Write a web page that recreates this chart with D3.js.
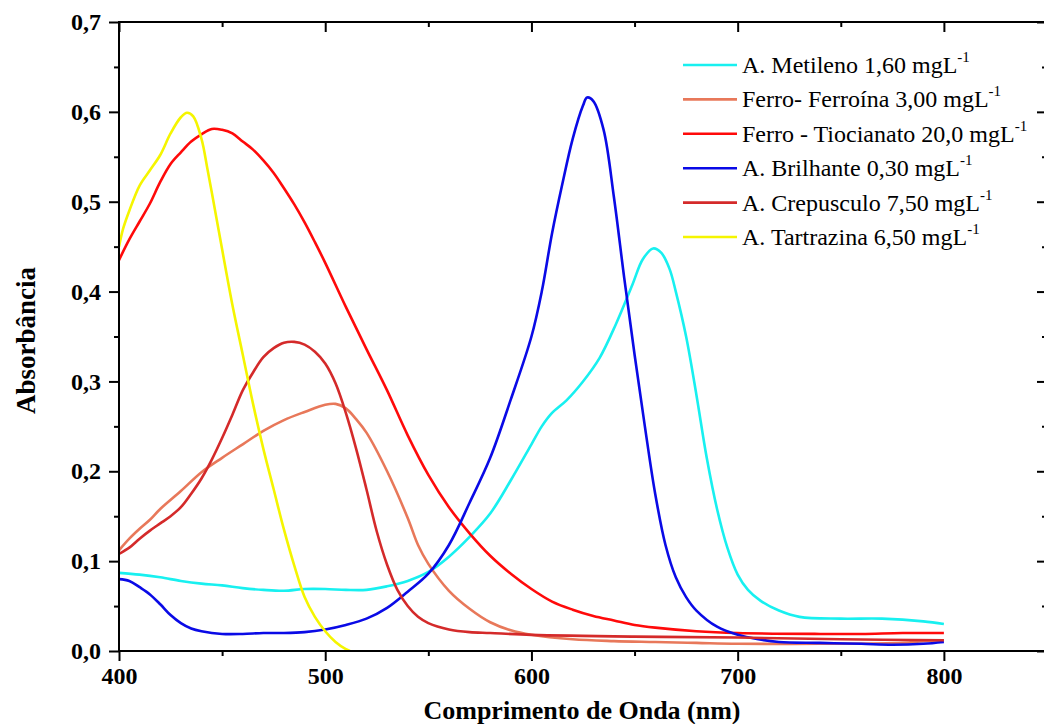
<!DOCTYPE html>
<html>
<head>
<meta charset="utf-8">
<script src="https://cdn.jsdelivr.net/npm/d3@7"></script>
<style>
body { margin: 0; background: #fff; }
text { font-family: "Liberation Serif", "Times New Roman", serif; }
</style>
</head>
<body>
<div id="chart"></div>
<script>
// spectra: [wavelength nm, absorbance]
var metileno = [[400,0.087],[410,0.085],[420,0.082],[430,0.078],[440,0.075],[450,0.073],[460,0.070],[470,0.068],[480,0.067],[490,0.069],[500,0.069],[510,0.068],[520,0.068],[530,0.072],[540,0.078],[550,0.088],[560,0.105],[570,0.127],[580,0.153],[590,0.19],[600,0.23],[605,0.25],[610,0.265],[617,0.279],[625,0.30],[633,0.326],[641,0.364],[649,0.408],[654,0.436],[659,0.448],[663,0.443],[667,0.425],[670,0.40],[675,0.35],[680,0.285],[685,0.215],[690,0.158],[695,0.115],[700,0.085],[705,0.068],[711,0.056],[720,0.045],[730,0.038],[750,0.036],[770,0.036],[790,0.033],[800,0.030]];
var ferroina = [[400,0.112],[405,0.125],[410,0.136],[415,0.146],[420,0.158],[430,0.178],[440,0.199],[450,0.215],[460,0.23],[470,0.245],[480,0.257],[490,0.266],[500,0.274],[505,0.275],[510,0.27],[515,0.258],[520,0.243],[530,0.20],[540,0.148],[545,0.118],[550,0.097],[560,0.067],[570,0.047],[580,0.032],[590,0.023],[600,0.018],[620,0.013],[640,0.011],[660,0.010],[680,0.009],[700,0.008],[740,0.008],[780,0.009],[790,0.011],[800,0.012]];
var tiocianato = [[400,0.435],[405,0.458],[410,0.478],[415,0.498],[420,0.522],[425,0.542],[430,0.555],[435,0.567],[440,0.575],[445,0.581],[450,0.580],[455,0.576],[460,0.567],[465,0.558],[470,0.546],[475,0.532],[480,0.515],[485,0.497],[490,0.477],[495,0.455],[500,0.432],[510,0.383],[520,0.336],[530,0.29],[540,0.24],[550,0.196],[560,0.16],[570,0.131],[580,0.106],[590,0.086],[600,0.069],[610,0.055],[620,0.046],[630,0.039],[640,0.034],[650,0.029],[660,0.026],[680,0.022],[700,0.020],[740,0.019],[760,0.019],[780,0.020],[800,0.020]];
var brilhante = [[400,0.080],[405,0.078],[410,0.071],[415,0.063],[420,0.052],[425,0.040],[430,0.031],[435,0.025],[440,0.022],[450,0.019],[460,0.019],[470,0.020],[480,0.020],[490,0.021],[500,0.024],[510,0.029],[520,0.036],[530,0.048],[540,0.066],[550,0.086],[560,0.118],[570,0.165],[580,0.215],[590,0.28],[600,0.35],[605,0.40],[610,0.465],[615,0.52],[620,0.57],[625,0.607],[627,0.616],[630,0.612],[635,0.58],[640,0.505],[645,0.415],[650,0.33],[655,0.25],[660,0.175],[665,0.118],[670,0.082],[675,0.06],[680,0.045],[690,0.027],[700,0.018],[710,0.013],[720,0.010],[740,0.009],[760,0.008],[775,0.007],[790,0.008],[800,0.010]];
var crepusculo = [[400,0.108],[405,0.115],[410,0.125],[415,0.134],[420,0.142],[425,0.150],[430,0.16],[435,0.175],[440,0.192],[445,0.213],[450,0.237],[455,0.263],[460,0.29],[465,0.31],[470,0.327],[475,0.337],[480,0.343],[485,0.344],[490,0.341],[495,0.333],[500,0.320],[505,0.298],[510,0.265],[515,0.225],[520,0.18],[525,0.133],[530,0.096],[535,0.068],[540,0.05],[545,0.038],[550,0.031],[560,0.024],[570,0.021],[580,0.02],[600,0.018],[650,0.016],[700,0.015],[750,0.013],[800,0.012]];
var tartrazina = [[400,0.45],[402,0.47],[405,0.49],[410,0.518],[415,0.535],[420,0.552],[425,0.576],[430,0.594],[433,0.599],[436,0.595],[440,0.57],[443,0.535],[447,0.485],[450,0.447],[455,0.385],[460,0.33],[465,0.275],[470,0.225],[475,0.18],[480,0.135],[485,0.095],[490,0.06],[495,0.038],[500,0.022],[505,0.01],[510,0.002],[512,0]];

var names = ["A. Metileno 1,60 mgL", "Ferro- Ferroína 3,00 mgL", "Ferro - Tiocianato 20,0 mgL",
             "A. Brilhante 0,30 mgL", "A. Crepusculo 7,50 mgL", "A. Tartrazina 6,50 mgL"];
var colors = ["#18F0F0", "#E8785A", "#FF0A0A", "#0A0AE6", "#D42A2A", "#F5F500"];
var seriesData = [metileno, ferroina, tiocianato, brilhante, crepusculo, tartrazina];

var xTicks = [400, 500, 600, 700, 800],
    xMinor = [450, 550, 650, 750, 850],
    yTicks = [0, 0.1, 0.2, 0.3, 0.4, 0.5, 0.6, 0.7],
    yMinor = [0.05, 0.15, 0.25, 0.35, 0.45, 0.55, 0.65];

var margin = {top: 22, left: 119, right: 0, bottom: 73},
    width  = 928,
    height = 629;

var svg = d3.select("#chart").append("svg")
    .attr("width", 1044).attr("height", 724);

var g = svg.append("g").attr("transform", "translate(" + margin.left + "," + margin.top + ")");

var x = d3.scaleLinear().domain([400, 850]).range([0, width]),
    y = d3.scaleLinear().domain([0, 0.7]).range([height, 0]);

var fmt = function(d) { return d3.format(".1f")(d).replace(".", ","); };

svg.append("clipPath").attr("id", "clip")
  .append("rect").attr("x", 0).attr("y", 0).attr("width", width).attr("height", height);

var line = d3.line()
    .x(function(d) { return x(d[0]); })
    .y(function(d) { return y(d[1]); })
    .curve(d3.curveCatmullRom.alpha(0.5));

g.append("g").attr("clip-path", "url(#clip)")
  .selectAll("path")
  .data(seriesData)
  .join("path")
    .attr("fill", "none")
    .attr("stroke", function(d, i) { return colors[i]; })
    .attr("stroke-width", 2.6)
    .attr("d", line);

function styleAxis(sel) {
  sel.select(".domain").remove();
  sel.selectAll("line").attr("stroke", "#000").attr("stroke-width", 2);
  sel.selectAll("text")
    .attr("fill", "#000")
    .style("font-size", "24px")
    .style("font-weight", "bold");
}

// bottom
g.append("g").attr("transform", "translate(0," + height + ")")
  .call(d3.axisBottom(x).tickValues(xTicks).tickSize(10).tickPadding(6).tickFormat(d3.format("d")))
  .call(styleAxis);
g.append("g").attr("transform", "translate(0," + height + ")")
  .call(d3.axisBottom(x).tickValues(xMinor).tickSize(5).tickFormat(""))
  .call(styleAxis);
// left
g.append("g")
  .call(d3.axisLeft(y).tickValues(yTicks).tickSize(10).tickPadding(8).tickFormat(fmt))
  .call(styleAxis);
g.append("g")
  .call(d3.axisLeft(y).tickValues(yMinor).tickSize(5).tickFormat(""))
  .call(styleAxis);
// top, ticks inward
g.append("g")
  .call(d3.axisBottom(x).tickValues(xTicks).tickSize(10).tickFormat(""))
  .call(styleAxis);
g.append("g")
  .call(d3.axisBottom(x).tickValues(xMinor).tickSize(5).tickFormat(""))
  .call(styleAxis);
// right, ticks inward
g.append("g").attr("transform", "translate(" + width + ",0)")
  .call(d3.axisLeft(y).tickValues(yTicks).tickSize(10).tickFormat(""))
  .call(styleAxis);
g.append("g").attr("transform", "translate(" + width + ",0)")
  .call(d3.axisLeft(y).tickValues(yMinor).tickSize(5).tickFormat(""))
  .call(styleAxis);

g.append("rect")
  .attr("width", width).attr("height", height)
  .attr("fill", "none").attr("stroke", "#000").attr("stroke-width", 2);

// axis titles
svg.append("text")
  .attr("x", 582)
  .attr("y", 719)
  .attr("text-anchor", "middle")
  .style("font-size", "26px").style("font-weight", "bold")
  .text("Comprimento de Onda (nm)");

svg.append("text")
  .attr("transform", "translate(35," + (margin.top + height / 2 + 4) + ") rotate(-90)")
  .attr("text-anchor", "middle")
  .style("font-size", "27px").style("font-weight", "bold")
  .text("Absorbância");

// legend
var legend = svg.append("g").attr("transform", "translate(683,65)");
var rows = legend.selectAll("g").data(names).join("g")
  .attr("transform", function(d, i) { return "translate(0," + (i * 34.4) + ")"; });
rows.append("line")
  .attr("x1", 0).attr("x2", 54)
  .attr("stroke", function(d, i) { return colors[i]; })
  .attr("stroke-width", 2.6);
var lt = rows.append("text")
  .attr("x", 59).attr("y", 8)
  .style("font-size", "24px");
lt.append("tspan").text(function(d) { return d; });
lt.append("tspan").attr("dy", -11).style("font-size", "15px").text("-1");
</script>
</body>
</html>
